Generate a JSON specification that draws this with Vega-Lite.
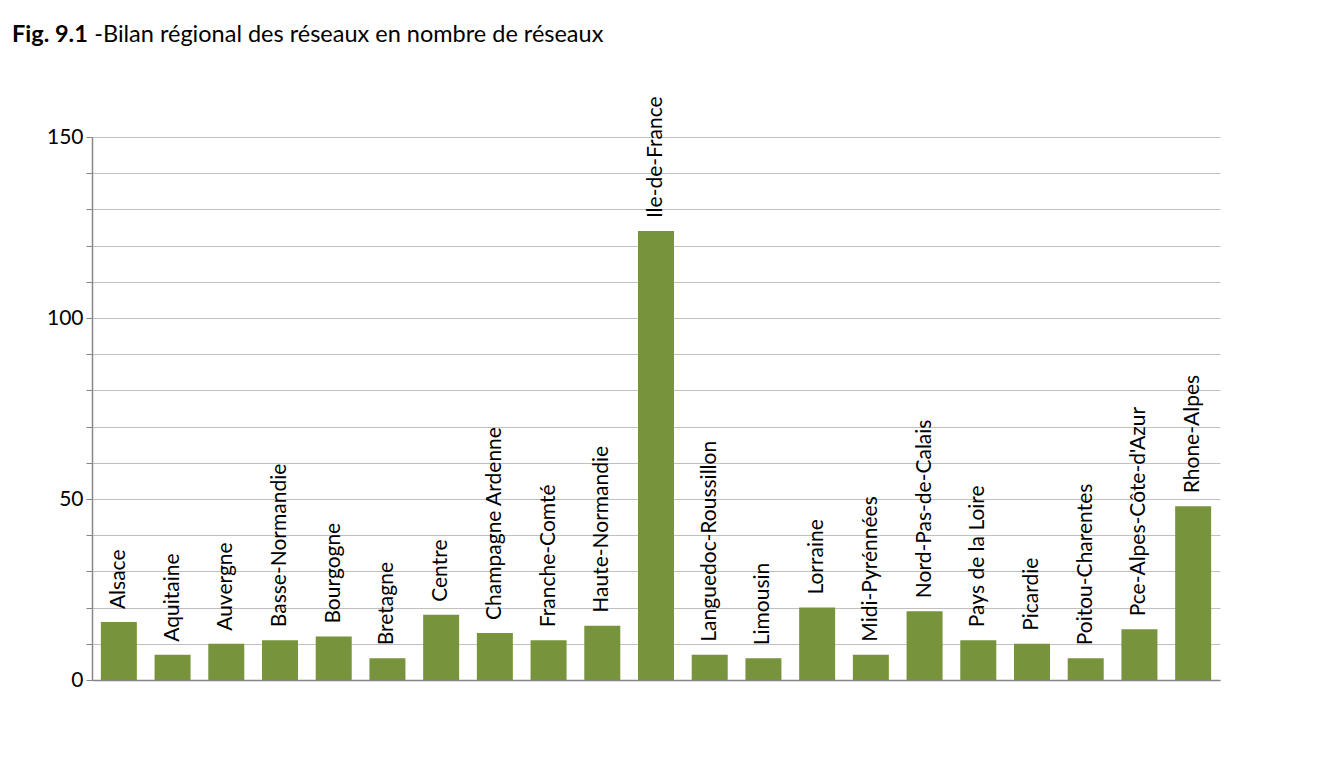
{
  "$schema": "https://vega.github.io/schema/vega-lite/v6.json",
  "width": 1128,
  "height": 543,
  "autosize": {"type": "none"},
  "padding": {"left": 92, "top": 137, "right": 107, "bottom": 85},
  "background": "white",
  "title": {
    "text": "Fig. 9.1",
    "subtitle": "\u200b\u2003\u2003\u2003\u2003\u2002-Bilan régional des réseaux en nombre de réseaux",
    "anchor": "start",
    "frame": "group",
    "dx": -80,
    "dy": -46,
    "font": "Lato",
    "fontSize": 23.5,
    "fontWeight": "bold",
    "color": "black",
    "subtitleFont": "Lato",
    "subtitleFontSize": 23.5,
    "subtitleColor": "black",
    "subtitlePadding": -23.5
  },
  "data": {
    "values": [
      {"region": "Alsace", "n": 16},
      {"region": "Aquitaine", "n": 7},
      {"region": "Auvergne", "n": 10},
      {"region": "Basse-Normandie", "n": 11},
      {"region": "Bourgogne", "n": 12},
      {"region": "Bretagne", "n": 6},
      {"region": "Centre", "n": 18},
      {"region": "Champagne Ardenne", "n": 13},
      {"region": "Franche-Comté", "n": 11},
      {"region": "Haute-Normandie", "n": 15},
      {"region": "Ile-de-France", "n": 124},
      {"region": "Languedoc-Roussillon", "n": 7},
      {"region": "Limousin", "n": 6},
      {"region": "Lorraine", "n": 20},
      {"region": "Midi-Pyrénnées", "n": 7},
      {"region": "Nord-Pas-de-Calais", "n": 19},
      {"region": "Pays de la Loire", "n": 11},
      {"region": "Picardie", "n": 10},
      {"region": "Poitou-Charentes", "n": 6},
      {"region": "Pce-Alpes-Côte-d'Azur", "n": 14},
      {"region": "Rhone-Alpes", "n": 48}
    ]
  },
  "encoding": {
    "x": {
      "field": "region",
      "type": "nominal",
      "sort": null,
      "scale": {"paddingInner": 0.33, "paddingOuter": 0.165},
      "axis": {"title": null, "labels": false, "ticks": false, "domainColor": "#868686", "domainWidth": 1.5, "grid": false}
    },
    "y": {
      "field": "n",
      "type": "quantitative",
      "scale": {"domain": [0, 150], "nice": false},
      "axis": {
        "title": null,
        "values": [0, 10, 20, 30, 40, 50, 60, 70, 80, 90, 100, 110, 120, 130, 140, 150],
        "labelExpr": "datum.value % 50 === 0 ? datum.label : ''",
        "grid": true,
        "gridColor": "#C0C0C0",
        "gridWidth": 1,
        "domainColor": "#868686",
        "domainWidth": 1.5,
        "tickColor": "#868686",
        "tickSize": 6,
        "labelPadding": 3,
        "labelFont": "Lato",
        "labelFontSize": 21,
        "labelColor": "black"
      }
    }
  },
  "layer": [
    {"mark": {"type": "bar", "color": "#77933C"}},
    {
      "mark": {"type": "text", "angle": 270, "align": "left", "baseline": "middle", "dx": 13, "font": "Lato", "fontSize": 21, "color": "black"},
      "encoding": {"text": {"field": "region"}}
    }
  ],
  "config": {"view": {"stroke": null}}
}
